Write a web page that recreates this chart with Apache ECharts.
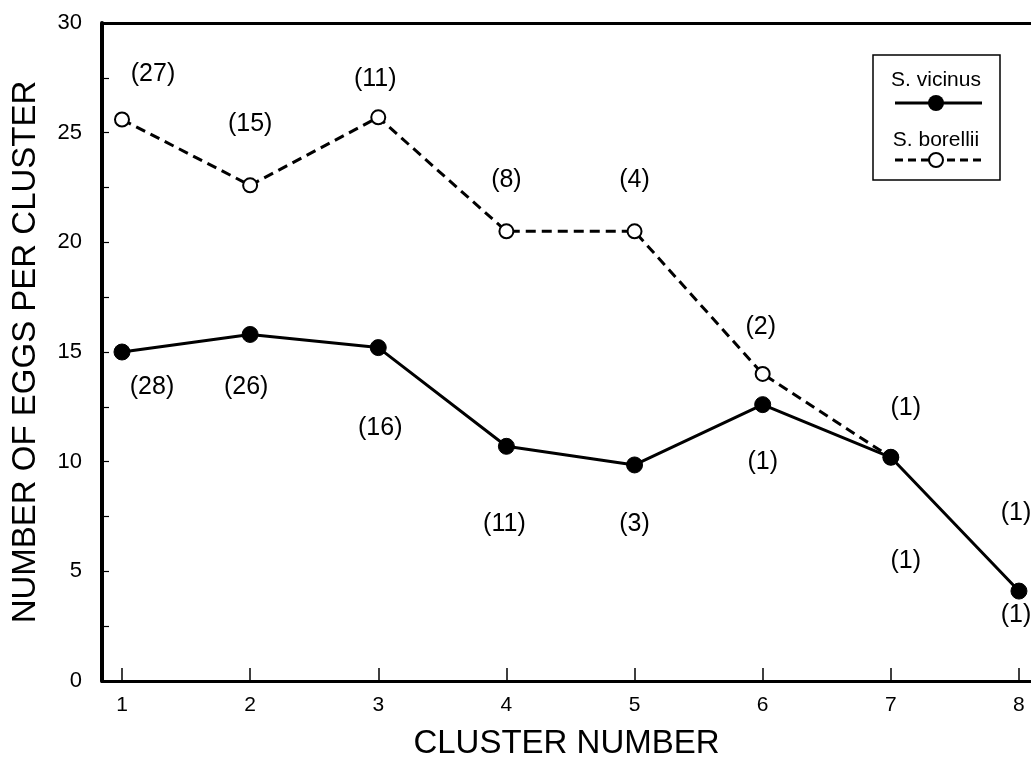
<!DOCTYPE html>
<html>
<head>
<meta charset="utf-8">
<script src="https://cdn.jsdelivr.net/npm/echarts@6/dist/echarts.min.js"></script>
<style>
html,body{margin:0;padding:0;background:#fff;}
#chart{width:1031px;height:765px;}
</style>
</head>
<body>
<div id="chart"></div>
<script>
// ---- data ----
var clusters = [1, 2, 3, 4, 5, 6, 7, 8];
var vicinus = [15.0, 15.8, 15.2, 10.7, 9.85, 12.6, 10.2, 4.1];
var vicinusN = [28, 26, 16, 11, 3, 1, 1, 1];
var borellii = [25.6, 22.6, 25.7, 20.5, 20.5, 14.0, 10.2];
var borelliiN = [27, 15, 11, 8, 4, 2, 1];
var extraLabelCluster = [8];
var extraLabelN = [1];
var yTicks = [0, 5, 10, 15, 20, 25, 30];

// ---- layout of the count labels (pixel offsets from each point) ----
var vicOff = [[30, 35], [-4, 53], [2, 80], [-2, 78], [0, 59], [0, 57], [15, 104], [-3, 24]];
var borOff = [[31, -45], [0, -61], [-3, -38], [0, -51], [0, -51], [-2, -47], [15, -49]];
var extraOff = [[-3, -78]];

var FONT = "'Liberation Sans', Arial, Helvetica, sans-serif";

function labelled(xs, ys, ns, offs) {
  return ys.map(function (v, i) {
    return {
      value: [xs[i], v],
      label: {
        show: true,
        position: 'inside',
        offset: offs[i],
        formatter: '(' + ns[i] + ')',
        fontSize: 25,
        fontFamily: FONT,
        color: '#000',
        opacity: 1,
        align: 'center',
        verticalAlign: 'middle'
      }
    };
  });
}

var chart = echarts.init(document.getElementById('chart'), null, {renderer: 'canvas'});

var xMin = 0.844, xMax = 8.094;

var option = {
  backgroundColor: '#fff',
  animation: false,
  grid: {left: 102, right: 0, top: 23, bottom: 78, containLabel: false},
  xAxis: [{
    type: 'value',
    min: xMin,
    max: xMax,
    name: 'CLUSTER NUMBER',
    nameLocation: 'middle',
    nameGap: 46,
    nameTextStyle: {fontSize: 33, fontFamily: FONT, color: '#000'},
    axisLine: {show: true, onZero: false, lineStyle: {color: '#000', width: 3}},
    axisTick: {show: true, inside: true, length: 13, customValues: clusters, lineStyle: {color: '#000', width: 1.5}},
    axisLabel: {show: true, customValues: clusters, margin: 14, fontSize: 21, fontFamily: FONT, color: '#000'},
    splitLine: {show: false}
  }, {
    type: 'value',
    position: 'top',
    min: xMin,
    max: xMax,
    axisLine: {show: true, onZero: false, lineStyle: {color: '#000', width: 3}},
    axisTick: {show: false},
    axisLabel: {show: false},
    splitLine: {show: false}
  }],
  yAxis: {
    type: 'value',
    min: 0,
    max: 30,
    interval: 2.5,
    name: 'NUMBER OF EGGS PER CLUSTER',
    nameLocation: 'middle',
    nameRotate: 90,
    nameGap: 60,
    nameTextStyle: {fontSize: 33, fontFamily: FONT, color: '#000'},
    axisLine: {show: true, lineStyle: {color: '#000', width: 4}},
    axisTick: {show: true, inside: true, length: 7, lineStyle: {color: '#000', width: 1.2}},
    minorTick: {show: true, splitNumber: 5, length: 2, lineStyle: {color: '#000', width: 1}},
    axisLabel: {
      margin: 20, fontSize: 22, fontFamily: FONT, color: '#000',
      formatter: function (v) { return yTicks.indexOf(v) >= 0 ? String(v) : ''; }
    },
    splitLine: {show: false}
  },
  series: [{
    name: 'S. borellii',
    type: 'line',
    z: 2,
    data: labelled(clusters, borellii, borelliiN, borOff),
    symbol: 'circle',
    symbolSize: 14,
    showAllSymbol: true,
    lineStyle: {color: '#000', width: 3, type: [10, 6]},
    itemStyle: {color: '#fff', borderColor: '#000', borderWidth: 2},
    emphasis: {disabled: true}
  }, {
    name: 'S. vicinus',
    type: 'line',
    z: 3,
    data: labelled(clusters, vicinus, vicinusN, vicOff),
    symbol: 'circle',
    symbolSize: 16,
    showAllSymbol: true,
    lineStyle: {color: '#000', width: 3},
    itemStyle: {color: '#000', borderColor: '#000', borderWidth: 1},
    emphasis: {disabled: true}
  }, {
    name: 'extra',
    type: 'scatter',
    z: 1,
    symbolSize: 1,
    silent: true,
    clip: false,
    itemStyle: {color: 'rgba(0,0,0,0)', opacity: 1},
    emphasis: {disabled: true},
    data: labelled(extraLabelCluster, extraLabelCluster.map(function (c) { return vicinus[clusters.indexOf(c)]; }), extraLabelN, extraOff)
  }],
  graphic: [
    {type: 'rect', shape: {x: 873, y: 55, width: 127, height: 125}, style: {fill: '#fff', stroke: '#000', lineWidth: 1.5}, z: 10},
    {type: 'text', x: 936, y: 80, style: {text: 'S. vicinus', font: '21px ' + FONT, fill: '#000', align: 'center', verticalAlign: 'middle'}, z: 11},
    {type: 'line', shape: {x1: 895, y1: 103, x2: 982, y2: 103}, style: {stroke: '#000', lineWidth: 3}, z: 11},
    {type: 'circle', shape: {cx: 936, cy: 103, r: 8}, style: {fill: '#000'}, z: 12},
    {type: 'text', x: 936, y: 140, style: {text: 'S. borellii', font: '21px ' + FONT, fill: '#000', align: 'center', verticalAlign: 'middle'}, z: 11},
    {type: 'line', shape: {x1: 895, y1: 160, x2: 982, y2: 160}, style: {stroke: '#000', lineWidth: 3, lineDash: [8, 5]}, z: 11},
    {type: 'circle', shape: {cx: 936, cy: 160, r: 7}, style: {fill: '#fff', stroke: '#000', lineWidth: 2}, z: 12}
  ]
};

chart.setOption(option);
</script>
</body>
</html>
